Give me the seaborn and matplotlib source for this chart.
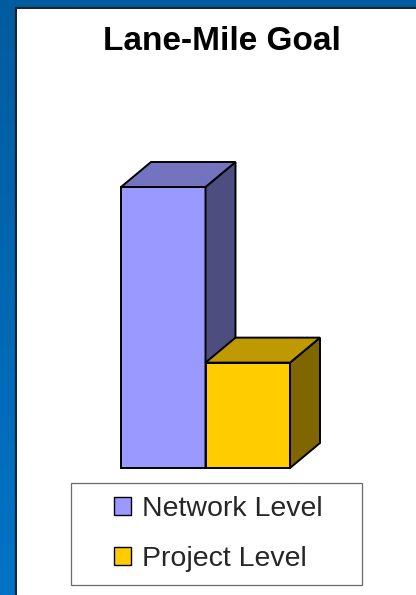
import numpy as np
import matplotlib
matplotlib.use("Agg")
import matplotlib.pyplot as plt
from matplotlib.patches import Patch, Polygon, Rectangle
from matplotlib.lines import Line2D
import seaborn as sns

sns.set_style("white")
plt.rcParams["font.family"] = ["Liberation Sans", "DejaVu Sans"]

# Chart data
title = "Lane-Mile Goal"
categories = ["Network Level", "Project Level"]
values = [8000, 3000]
front_colors = ["#9999FF", "#FFCC00"]

def shade(hex_color, k):
    rgb = np.array(matplotlib.colors.to_rgb(hex_color)) * k
    return tuple(rgb)

W, H = 416, 595
fig = plt.figure(figsize=(W / 100, H / 100), dpi=100)

# Blue slide background with a vertical gradient
ax_bg = fig.add_axes([0, 0, 1, 1])
grad = np.linspace(0, 1, 256)[:, None]
top_c = np.array(matplotlib.colors.to_rgb("#005C9E"))
bot_c = np.array(matplotlib.colors.to_rgb("#0074C6"))
img = top_c[None, None, :] * (1 - grad[..., None]) + bot_c[None, None, :] * grad[..., None]
img = np.repeat(img, 2, axis=1)
ax_bg.imshow(img, aspect="auto", extent=[0, 1, 0, 1])
ax_bg.set_xlim(0, 1)
ax_bg.set_ylim(0, 1)
ax_bg.axis("off")

# White chart panel with a dark shadow along its top and left edges
px0, py_top = 17, 9
ax_panel = fig.add_axes([px0 / W, 0, 1 - px0 / W, (H - py_top) / H])
ax_panel.set_facecolor("white")
ax_panel.set_xticks([])
ax_panel.set_yticks([])
for s in ax_panel.spines.values():
    s.set_visible(False)
shadow = "#17263A"
ax_bg.add_line(Line2D([(px0 - 1) / W, (px0 - 1) / W], [0, 1 - (py_top - 1) / H],
                      color=shadow, lw=1.6, transform=fig.transFigure))
ax_bg.add_line(Line2D([(px0 - 1) / W, 1], [1 - (py_top - 1) / H, 1 - (py_top - 1) / H],
                      color=shadow, lw=1.6, transform=fig.transFigure))

# Bars (front faces)
edge_lw = 1.4
x_left, x_right, y_floor, y_top = 121, 290, 468, 187
ax = fig.add_axes([x_left / W, (H - y_floor) / H, (x_right - x_left) / W, (y_floor - y_top) / H])
ax.patch.set_alpha(0)
sns.barplot(x=categories, y=values, hue=categories, palette=front_colors,
            width=1.0, saturation=1, edgecolor="black", linewidth=edge_lw,
            legend=False, ax=ax)
ax.set_xlim(-0.5, len(categories) - 0.5)
ax.set_ylim(0, max(values))
ax.axis("off")

# 3-D depth: top and right side faces derived from each bar
depth_dx, depth_dy = 30, 25  # pixels
to_disp = ax.transData
to_data = ax.transData.inverted()
bars = sorted(ax.patches, key=lambda p: p.get_x())
for i, (bar, col) in enumerate(zip(bars, front_colors)):
    z = 2 + 2 * i
    bar.set_zorder(z)
    bar.set_clip_on(False)
    bar.set_joinstyle("miter")
    x0, x1 = bar.get_x(), bar.get_x() + bar.get_width()
    h = bar.get_height()
    (dx0, dy0), (dx1, dy1) = to_disp.transform([(x0, 0), (x1, h)])
    def back(px, py):
        return to_data.transform((px + depth_dx, py + depth_dy))
    top = [to_data.transform((dx0, dy1)), back(dx0, dy1), back(dx1, dy1), to_data.transform((dx1, dy1))]
    side = [to_data.transform((dx1, dy0)), back(dx1, dy0), back(dx1, dy1), to_data.transform((dx1, dy1))]
    ax.add_patch(Polygon(side, closed=True, facecolor=shade(col, 0.5), edgecolor="black",
                         lw=edge_lw, zorder=z, clip_on=False, joinstyle="miter"))
    ax.add_patch(Polygon(top, closed=True, facecolor=shade(col, 0.75), edgecolor="black",
                         lw=edge_lw, zorder=z, clip_on=False, joinstyle="miter"))

# Title
fig.text(222 / W, 1 - 41 / H, title, ha="center", va="center",
         fontsize=24, fontweight="bold", color="black")

# Legend with a plain rectangular frame
handles = [Patch(facecolor=c, edgecolor="black", lw=1.0) for c in front_colors]
fig.legend(handles, categories, loc="center",
           bbox_to_anchor=(218 / W, 1 - 534 / H), frameon=False,
           fontsize=20.5, handlelength=0.6, handleheight=0.6,
           handletextpad=0.39, labelspacing=0.82, borderpad=0)
fig.patches.append(Rectangle((70.5 / W, 1 - 584.5 / H), 291 / W, 102 / H,
                             transform=fig.transFigure, facecolor="none",
                             edgecolor="#6A6A6A", lw=0.9, zorder=5))

fig.savefig("out.png", dpi=100)
